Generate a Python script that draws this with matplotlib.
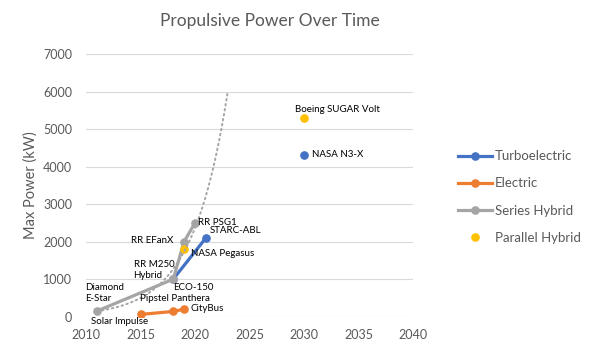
import numpy as np
import matplotlib
matplotlib.use('Agg')
import matplotlib.pyplot as plt
from matplotlib.lines import Line2D

plt.rcParams['font.family'] = ['Lato', 'DejaVu Sans']

# --- data ---
turbo_years = [2018, 2021, 2030]
turbo_power = [1000, 2100, 4300]
turbo_names = ['ECO-150', 'STARC-ABL', 'NASA N3-X']

electric_years = [2015, 2018, 2019]
electric_power = [60, 140, 200]
electric_names = ['Solar Impulse', 'Pipstel Panthera', 'CityBus']

series_years = [2011, 2018, 2019, 2020]
series_power = [150, 1000, 2000, 2500]
series_names = ['Diamond\nE-Star', 'RR M250\nHybrid', 'RR EFanX', 'RR PSG1']

parallel_years = [2019, 2030]
parallel_power = [1800, 5300]
parallel_names = ['NASA Pegasus', 'Boeing SUGAR Volt']

# label placement: (dx px, dy px down, ha)
label_pos = {
    'ECO-150': (0, 8, 'left'),
    'STARC-ABL': (4, -7, 'left'),
    'NASA N3-X': (8, -1, 'left'),
    'Solar Impulse': (-21, 7, 'center'),
    'Pipstel Panthera': (2, -13, 'center'),
    'CityBus': (6, -1, 'left'),
    'Diamond\nE-Star': (-12, -18, 'left'),
    'RR M250\nHybrid': (1, -9, 'right'),
    'RR EFanX': (-11, -1, 'right'),
    'RR PSG1': (3, 0, 'left'),
    'NASA Pegasus': (7, 4, 'left'),
    'Boeing SUGAR Volt': (-9, -8, 'left'),
}

BLUE = '#4472C4'
ORANGE = '#ED7D31'
GRAY = '#A5A5A5'
YELLOW = '#FFC000'
TEXT = '#595959'

W, H = 589, 352
fig = plt.figure(figsize=(W / 100, H / 100), dpi=100)
left, right, top, bottom = 86, 413, 54, 316.7
ax = fig.add_axes([left / W, 1 - bottom / H, (right - left) / W, (bottom - top) / H])

lw = 2.3
ms = 5.2
# turboelectric: N3-X is not joined to the rest
ax.plot(turbo_years[:2] + [np.nan] + turbo_years[2:],
        turbo_power[:2] + [np.nan] + turbo_power[2:],
        color=BLUE, lw=lw, marker='o', ms=ms, zorder=3)
ax.plot(electric_years, electric_power, color=ORANGE, lw=lw, marker='o', ms=ms, zorder=4)
ax.plot(series_years, series_power, color=GRAY, lw=lw, marker='o', ms=ms, zorder=5)
ax.plot(parallel_years, parallel_power, color=YELLOW, lw=0, marker='o', ms=ms, zorder=6)

# exponential trendline of the series hybrid points, forecast 3 years forward
b, a = np.polyfit(series_years, np.log(series_power), 1)
tx = np.linspace(min(series_years), max(series_years) + 3, 200)
ax.plot(tx, np.exp(a + b * tx), color=GRAY, lw=1.4, linestyle=(0, (0.8, 1.8)),
        dash_capstyle='round', zorder=7)

px = 0.72
for xs, ys, names in [(turbo_years, turbo_power, turbo_names),
                      (electric_years, electric_power, electric_names),
                      (series_years, series_power, series_names),
                      (parallel_years, parallel_power, parallel_names)]:
    for x, y, n in zip(xs, ys, names):
        dx, dy, ha = label_pos[n]
        ax.annotate(n, xy=(x, y), xytext=(dx * px, -dy * px), textcoords='offset points',
                    ha=ha, va='center', fontsize=7, color='black',
                    multialignment='left', zorder=8)

ax.set_xlim(2010, 2040)
ax.set_ylim(0, 7000)
ax.set_xticks(range(2010, 2041, 5))
ax.set_yticks(range(0, 7001, 1000))
ax.grid(axis='y', color='#D9D9D9', lw=0.8)
ax.set_axisbelow(True)
for s in ax.spines.values():
    s.set_visible(False)
ax.tick_params(length=0, labelsize=9, labelcolor=TEXT)
ax.tick_params(axis='y', pad=10)
ax.tick_params(axis='x', pad=9)
ax.set_ylabel('Max Power (kW)', fontsize=10.5, color=TEXT, labelpad=4)

fig.text(270 / W, 1 - 21 / H, 'Propulsive Power Over Time', ha='center', va='center',
         fontsize=12.5, color=TEXT)

handles = [
    Line2D([], [], color=BLUE, lw=lw, marker='o', ms=ms),
    Line2D([], [], color=ORANGE, lw=lw, marker='o', ms=ms),
    Line2D([], [], color=GRAY, lw=lw, marker='o', ms=ms),
    Line2D([], [], color=YELLOW, lw=0, marker='o', ms=ms),
]
fig.legend(handles, ['Turboelectric', 'Electric', 'Series Hybrid', 'Parallel Hybrid'],
           loc='center left', bbox_to_anchor=(446 / W, 1 - 197 / H), frameon=False,
           fontsize=9.5, labelcolor=TEXT, handlelength=2.6, handletextpad=0.2,
           labelspacing=1.15)

fig.savefig('out.png', dpi=100)
